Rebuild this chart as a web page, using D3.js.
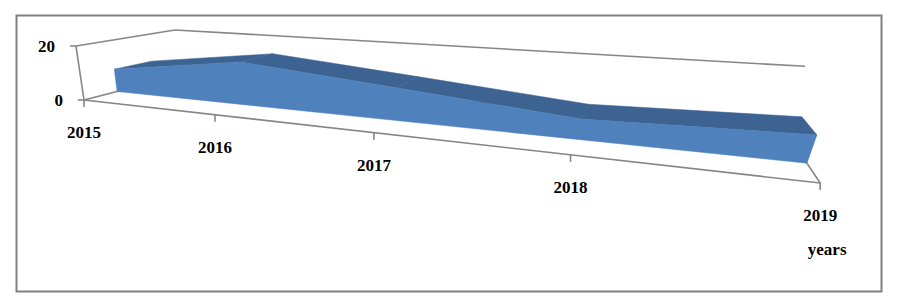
<!DOCTYPE html>
<html>
<head>
<meta charset="utf-8">
<script src="https://cdn.jsdelivr.net/npm/d3@7"></script>
<style>
  html, body { margin: 0; padding: 0; background: #fff; }
  svg { display: block; }
  .lbl { font-family: "Liberation Serif", "Times New Roman", serif; font-size: 17px; font-weight: bold; fill: #000; }
</style>
</head>
<body>
<svg class="main" width="897" height="302"></svg>
<script>
(function () {
  'use strict';

  const years = ["2015", "2016", "2017", "2018", "2019"];
  const values = [8.9, 15.5, 11, 6.3, 7.9];
  const valueTicks = [0, 20];
  const axisTitle = "years";

  const width = 897;
  const height = 302;

  const grid = "#868686";
  const frontColor = "#4F81BD";
  const topColor = "#3D6393";

  // world units: x = category index, y = value / max, z = depth (0 front, 1 back)
  const x = d3.scalePoint().domain(years).range([0, years.length - 1]);
  const y = d3.scaleLinear().domain([0, 20]).range([0, 1]);
  const zFront = 0.31;
  const zBack = 0.70;

  // perspective camera, fitted so the right end sits closer to the viewer
  const P = [
    [112.2, -10.66, 129.6, 84],
    [4.72, -55.6, -9.6, 100],
    [-0.0876, -0.035, 0.195, 1]
  ];

  function project(px, py, pz) {
    const w = P[2][0] * px + P[2][1] * py + P[2][2] * pz + P[2][3];
    return [
      (P[0][0] * px + P[0][1] * py + P[0][2] * pz + P[0][3]) / w,
      (P[1][0] * px + P[1][1] * py + P[1][2] * pz + P[1][3]) / w
    ];
  }

  const line = d3.line();
  const poly = pts => line(pts.map(p => project(p[0], p[1], p[2]))) + "Z";

  const svg = d3.select("svg.main");

  svg.append("rect")
    .attr("x", 16.5).attr("y", 15.5)
    .attr("width", 865).attr("height", 276)
    .attr("fill", "#fff")
    .attr("stroke", "#808080")
    .attr("stroke-width", 2);

  const xMax = years.length - 1;
  const top = y(valueTicks[valueTicks.length - 1]);

  function seg(g, a, b) {
    const pa = project(a[0], a[1], a[2]);
    const pb = project(b[0], b[1], b[2]);
    g.append("line")
      .attr("x1", pa[0]).attr("y1", pa[1])
      .attr("x2", pb[0]).attr("y2", pb[1]);
  }

  // walls, floor edges and gridlines
  const frame = svg.append("g")
    .attr("stroke", grid)
    .attr("stroke-width", 1.6)
    .attr("fill", "none");

  valueTicks.forEach(v => {
    seg(frame, [0, y(v), 0], [0, y(v), 1]);
    seg(frame, [0, y(v), 1], [xMax, y(v), 1]);
  });
  seg(frame, [0, 0, 0], [0, top, 0]);
  seg(frame, [0, 0, 0], [xMax, 0, 0]);
  seg(frame, [xMax, 0, 0], [xMax, 0, 1]);

  // value axis ticks and labels
  valueTicks.forEach(v => {
    const p = project(0, y(v), 0);
    frame.append("line")
      .attr("x1", p[0]).attr("y1", p[1])
      .attr("x2", p[0] - 6).attr("y2", p[1]);
    svg.append("text")
      .attr("class", "lbl")
      .attr("x", p[0] - 21)
      .attr("y", p[1] + 6)
      .attr("text-anchor", "end")
      .text(v);
  });

  // category ticks and labels
  years.forEach(yr => {
    const p = project(x(yr), 0, 0);
    frame.append("line")
      .attr("x1", p[0]).attr("y1", p[1])
      .attr("x2", p[0]).attr("y2", p[1] + 7);
    svg.append("text")
      .attr("class", "lbl")
      .attr("x", p[0])
      .attr("y", p[1] + 38)
      .attr("text-anchor", "middle")
      .text(yr);
  });

  const pEnd = project(xMax, 0, 0);
  svg.append("text")
    .attr("class", "lbl")
    .attr("x", pEnd[0] + 7)
    .attr("y", pEnd[1] + 72)
    .attr("text-anchor", "middle")
    .text(axisTitle);

  // the area series: top strips first, then the front face over them
  const area = svg.append("g");
  const pts = years.map((yr, i) => [x(yr), y(values[i])]);

  for (let i = 0; i < pts.length - 1; i++) {
    const a = pts[i];
    const b = pts[i + 1];
    area.append("path")
      .attr("d", poly([
        [a[0], a[1], zFront],
        [b[0], b[1], zFront],
        [b[0], b[1], zBack],
        [a[0], a[1], zBack]
      ]))
      .attr("fill", topColor)
      .attr("stroke", topColor)
      .attr("stroke-width", 0.5);
  }

  const front = pts.map(p => [p[0], p[1], zFront]);
  front.push([xMax, 0, zFront], [0, 0, zFront]);
  area.append("path")
    .attr("d", poly(front))
    .attr("fill", frontColor)
    .attr("stroke", frontColor)
    .attr("stroke-width", 0.5);
}());
</script>
</body>
</html>
